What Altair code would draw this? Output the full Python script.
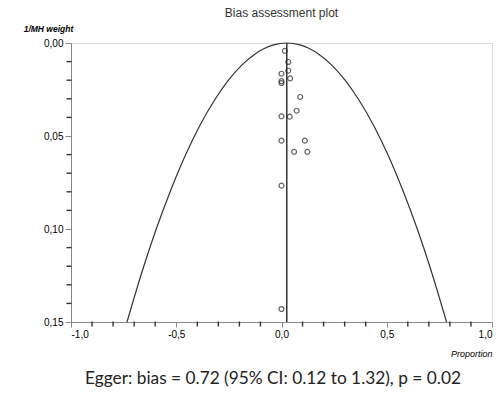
import altair as alt
import pandas as pd

# Study points (proportion, 1/MH weight)
pt_prop = [0.016, 0.032, 0.032, 0.0, 0.0, 0.0, 0.041, 0.089, 0.0, 0.039,
           0.072, 0.0, 0.111, 0.060, 0.123, 0.0, 0.0]
pt_weight = [0.0042, 0.0102, 0.0149, 0.0165, 0.0205, 0.0215, 0.019, 0.029,
             0.0394, 0.0396, 0.0364, 0.0525, 0.0525, 0.0585, 0.0585, 0.0767, 0.143]

# Funnel curve (left branch, apex, right branch)
funnel_y = [0.15, 0.125, 0.10, 0.08, 0.06, 0.045, 0.03, 0.02, 0.012, 0.006, 0.003, 0.001,
            0.0,
            0.001, 0.003, 0.006, 0.012, 0.02, 0.03, 0.045, 0.06, 0.08, 0.10, 0.125, 0.15]
funnel_x = [-0.734, -0.668, -0.595, -0.529, -0.455, -0.391, -0.314, -0.252, -0.190, -0.127, -0.082, -0.037,
            0.025,
            0.087, 0.132, 0.177, 0.240, 0.302, 0.364, 0.441, 0.505, 0.579, 0.645, 0.718, 0.784]

pooled = [0.025]
pooled_y0 = [0.0]
pooled_y1 = [0.15]

y_major = [0.0, 0.05, 0.10, 0.15]
y_minor = [0.01, 0.02, 0.03, 0.04, 0.06, 0.07, 0.08, 0.09, 0.11, 0.12, 0.13, 0.14]
x_major = [-1.0, -0.5, 0.0, 0.5, 1.0]
x_minor = [-0.9, -0.8, -0.7, -0.6, -0.4, -0.3, -0.2, -0.1, 0.1, 0.2, 0.3, 0.4, 0.6, 0.7, 0.8, 0.9]

egger_text = ["Egger: bias = 0.72 (95% CI: 0.12 to 1.32), p = 0.02"]

pts = pd.DataFrame({"x": pt_prop, "y": pt_weight})
fun = pd.DataFrame({"x": funnel_x, "y": funnel_y, "o": list(range(len(funnel_x)))})
rule = pd.DataFrame({"x": pooled, "y0": pooled_y0, "y1": pooled_y1})
txt = pd.DataFrame({"t": egger_text})
ymin_df = pd.DataFrame({"ym": y_minor})
xmin_df = pd.DataFrame({"xm": x_minor})

x_scale = alt.Scale(domain=[-1, 1], nice=False, zero=False)
y_scale = alt.Scale(domain=[0, 0.15], nice=False, zero=False, reverse=True)

x_axis = alt.Axis(
    values=x_major,
    labelExpr="replace(replace(format(datum.value, '.1f'), '.', ','), '\u2212', '-')",
    tickSize=5,
    labelOverlap=False,
    grid=False,
    title="Proportion",
    titleAnchor="end",
    titleAlign="right",
    titleX=421,
    titleY=34,
    titleBaseline="alphabetic",
    titleFontSize=9,
    titleFontStyle="italic",
    titleFontWeight="normal",
    labelPadding=2,
)
y_axis = alt.Axis(
    values=y_major,
    labelExpr="replace(format(datum.value, '.2f'), '.', ',')",
    tickSize=6,
    labelOverlap=False,
    grid=False,
    title="1/MH weight",
    titleAngle=0,
    titleAlign="center",
    titleX=-23,
    titleY=-12,
    titleBaseline="alphabetic",
    titleFontSize=8.5,
    titleFontStyle="italic",
    titleFontWeight="bold",
    labelPadding=2,
)

funnel = alt.Chart(fun).mark_line(color="#333333", strokeWidth=1.2, interpolate="monotone").encode(
    x=alt.X("x:Q", scale=x_scale, axis=x_axis),
    y=alt.Y("y:Q", scale=y_scale, axis=y_axis),
    order="o:Q",
)

vline = alt.Chart(rule).mark_rule(color="#333333", strokeWidth=1.5).encode(
    x=alt.X("x:Q", scale=x_scale, axis=x_axis),
    y=alt.Y("y0:Q", scale=y_scale, axis=y_axis),
    y2="y1:Q",
)

points = alt.Chart(pts).mark_point(shape="circle", filled=False, color="#222222", size=24, strokeWidth=1.2).encode(
    x=alt.X("x:Q", scale=x_scale, axis=x_axis),
    y=alt.Y("y:Q", scale=y_scale, axis=y_axis),
)

# minor ticks drawn from the minor tick lists through the shared scales
y_minor_ticks = alt.Chart(ymin_df).mark_rule(color="#333333", strokeWidth=1.4, clip=False).encode(
    y=alt.Y("ym:Q", scale=y_scale),
    x=alt.value(-4.5),
    x2=alt.value(0.5),
)
x_minor_ticks = alt.Chart(xmin_df).mark_rule(color="#333333", strokeWidth=1.4, clip=False).encode(
    x=alt.X("xm:Q", scale=x_scale),
    y=alt.value(278.5),
    y2=alt.value(283.5),
)

egger = alt.Chart(txt).mark_text(
    font="Lato", fontSize=17.3, color="#222222", align="center", baseline="alphabetic"
).encode(
    x=alt.value(202),
    y=alt.value(341),
    text="t:N",
)

chart = alt.layer(funnel, vline, y_minor_ticks, x_minor_ticks, points, egger).properties(
    width=421,
    height=279,
    title=alt.TitleParams(
        "Bias assessment plot", fontSize=12, font="Liberation Sans",
        fontWeight="normal", color="#333333", offset=4,
    ),
    autosize=alt.AutoSizeParams(type="none"),
    padding={"left": 71, "top": 43, "right": 9, "bottom": 71},
).configure_view(stroke=None).configure_axis(
    domainColor="#444444",
    tickColor="#444444",
    domainWidth=1.2,
    tickWidth=1,
    labelFont="Liberation Sans",
    titleFont="Liberation Sans",
    labelFontSize=8.5,
    labelFontStyle="italic",
    labelColor="#333333",
    titleColor="#333333",
).configure(background="white")

chart.save("out.html", embed_options={"renderer": "svg", "actions": False})
